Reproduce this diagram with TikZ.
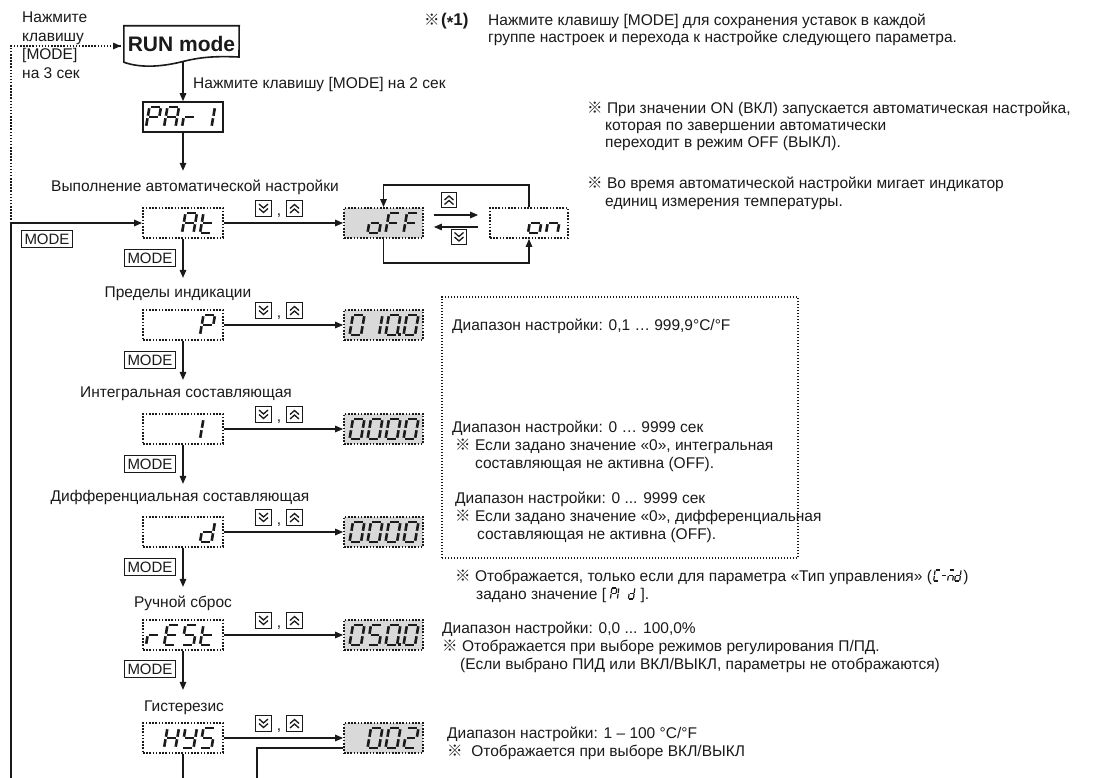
\documentclass[tikz,border=0pt]{standalone}
\usepackage{fontspec}
\setmainfont{Liberation Sans}
\newfontfamily\cjk{Noto Sans CJK JP}
\usetikzlibrary{arrows.meta}

\definecolor{ink}{HTML}{1A1A1A}
\definecolor{lcd}{HTML}{D9D9D9}

\newcommand\rf{{\cjk ※}}

% seven-segment helpers
\def\cw{11.5}\def\ch{20}\def\csl{3.5}
\def\segpa{0/1/1/1}
\def\segpb{1/1/1/0.5}
\def\segpc{1/0.5/1/0}
\def\segpd{0/0/1/0}
\def\segpe{0/0/0/0.5}
\def\segpf{0/0.5/0/1}
\def\segpg{0/0.5/1/0.5}
\def\drawseg#1/#2/#3/#4\relax{\draw[segl] ({\cx+#1*\cw+#2*\csl},{\cy-#2*\ch}) -- ({\cx+#3*\cw+#4*\csl},{\cy-#4*\ch});}
\newcommand\dg[3]{\def\cx{#1}\def\cy{#2}\foreach \s in #3 {\expandafter\expandafter\expandafter\drawseg\csname segp\s\endcsname\relax}}
\newcommand\cell[4][-37]{\begin{scope}[shift={(#2.center)}]\dg{#1+18*#3}{10}{#4}\end{scope}}
\newcommand\cdp[3][-34]{\begin{scope}[shift={(#2.center)}]\fill[ink] ({#1+18*#3+\cw+1},7.5) rectangle ({#1+18*#3+\cw+3.5},10.5);\end{scope}}

\def\Dzero{a,b,c,d,e,f}
\def\Done{b,c}
\def\Dtwo{a,b,g,e,d}
\def\Dfive{a,f,g,c,d}
\def\DA{a,b,c,e,f,g}
\def\DP{a,b,e,f,g}
\def\Dr{e,g}
\def\Dt{d,e,f,g}
\def\DE{a,d,e,f,g}
\def\DS{a,c,d,f,g}
\def\DH{b,c,e,f,g}
\def\DY{b,c,d,f,g}
\def\Do{c,d,e,g}
\def\DF{a,e,f,g}
\def\Dn{c,e,g}
\def\Dd{b,c,d,e,g}
\def\DI{e,f}
\def\DC{a,d,e,f}
\def\Dm{a,c,e,g}
\def\Ddash{g}

% chevron icons
\newcommand\chevd[1]{%
  \draw[chev] ([shift={(-4.5,-4.5)}]#1.center) -- ([shift={(0,-0.5)}]#1.center) -- ([shift={(4.5,-4.5)}]#1.center);
  \draw[chev] ([shift={(-4.5,0)}]#1.center) -- ([shift={(0,4)}]#1.center) -- ([shift={(4.5,0)}]#1.center);}
\newcommand\chevu[1]{%
  \draw[chev] ([shift={(-4.5,4.5)}]#1.center) -- ([shift={(0,0.5)}]#1.center) -- ([shift={(4.5,4.5)}]#1.center);
  \draw[chev] ([shift={(-4.5,0)}]#1.center) -- ([shift={(0,-4)}]#1.center) -- ([shift={(4.5,0)}]#1.center);}

\tikzset{
  x=1pt, y=-1pt,
  txt/.style={font=\fontsize{15.5}{18}\selectfont, text=ink, inner sep=0pt, anchor=base west},
  ctxt/.style={txt, anchor=base},
  pbox/.style={draw=ink, line width=1.8pt, dash pattern=on 1.6pt off 1.6pt, minimum width=80pt, minimum height=30pt, inner sep=0pt},
  vbox/.style={pbox, fill=lcd, minimum width=79pt},
  modeb/.style={draw=ink, line width=1.3pt, font=\fontsize{15}{16}\selectfont, text=ink, inner sep=1.2pt, minimum width=51pt, minimum height=17pt},
  icon/.style={draw=ink, line width=1.1pt, minimum size=15.5pt, inner sep=0pt},
  chev/.style={draw=ink, line width=1.3pt},
  ln/.style={draw=ink, line width=1.4pt},
  arr/.style={ln, -{Triangle[length=8pt,width=6.5pt]}},
  dotl/.style={draw=ink, line width=1.7pt, dash pattern=on 1.5pt off 1.6pt},
  segl/.style={draw=ink, line width=2.6pt, shorten <=1.3pt, shorten >=1.3pt},
}

\begin{document}
\begin{tikzpicture}
\useasboundingbox (0,0) rectangle (1102,778);
\fill[white] (0,0) rectangle (1102,778);

% ---------- top left ----------
\node[txt] (k1) at (22,23) {Нажмите};
\node[txt] (k2) at (22,41.5) {клавишу};
\node[txt] (k3) at (22,60) {[MODE]};
\node[txt] (k4) at (22,78.5) {на 3 сек};

\node[font=\bfseries\fontsize{21}{24}\selectfont, text=ink, inner sep=0pt, minimum width=115pt, minimum height=36pt] (run) at (181.5,44) {RUN mode};
\draw[ln, line width=1.6pt] (run.north west) -- (run.north east) -- (239,57)
  .. controls (215,56) and (200,57) .. (181,62)
  .. controls (160,67) and (140,68) .. (run.south west) -- cycle;

\coordinate (jn) at (11,223);
\coordinate (lt) at (11,46);
\coordinate (rl) at (121,46);
\coordinate (b1) at (11,778);
\draw[dotl] (jn) -- (lt) -- (rl);
\draw[-{Triangle[length=8pt,width=6.5pt]}, draw=ink, fill=ink, line width=1.4pt] ([xshift=-3pt]rl) -- (rl);
\draw[ln] (jn) -- (b1);
\node[modeb] (m0) at (47,239) {MODE};

\node[pbox, solid, line width=1.6pt] (par) at (183,117) {};
\draw[arr] (par.north |- run.south) -- (par.north);
\node[txt] (lab2) at (193,89) {Нажмите клавишу [MODE] на 2 сек};
\draw[arr] (par.south) -- ++(0,38);

% ---------- parameter column ----------
\node[ctxt] (lat) at (195,192) {Выполнение автоматической настройки};
\node[ctxt] (lp)  at (178,297) {Пределы индикации};
\node[ctxt] (li)  at (186,397) {Интегральная составляющая};
\node[ctxt] (ld)  at (180,501) {Дифференциальная составляющая};
\node[ctxt] (lr)  at (183,607) {Ручной сброс};
\node[ctxt] (lh)  at (184,711) {Гистерезис};

\node[pbox] (pat) at (183,223) {};
\node[pbox] (pp)  at (183,325) {};
\node[pbox] (pi)  at (183,429) {};
\node[pbox] (pd)  at (183,532) {};
\node[pbox] (prs) at (183,635) {};
\node[pbox] (phy) at (183,738) {};

\node[vbox] (off) at (383.5,223) {};
\node[vbox] (v1) at (383.5,325) {};
\node[vbox] (v2) at (383.5,429) {};
\node[vbox] (v3) at (383.5,532) {};
\node[vbox] (v4) at (383.5,635) {};
\node[vbox] (v5) at (383.5,738) {};
\node[pbox, minimum width=78pt] (on) at (529,223) {};

\draw[arr] (jn) -- (pat.west);
\draw[arr] (pat.east) -- (off.west);
\draw[arr] (pp.east) -- (v1.west);
\draw[arr] (pi.east) -- (v2.west);
\draw[arr] (pd.east) -- (v3.west);
\draw[arr] (prs.east) -- (v4.west);
\draw[arr] (phy.east) -- (v5.west);

\draw[arr] (pat.south) -- ++(0,39);
\draw[arr] (pp.south) -- ++(0,39);
\draw[arr] (pi.south) -- ++(0,39);
\draw[arr] (pd.south) -- ++(0,39);
\draw[arr] (prs.south) -- ++(0,39);
\coordinate (b2) at (183,778);
\draw[ln] (phy.south) -- (b2);
\coordinate (b3) at (257,778);
\draw[ln] ([yshift=-10pt]v5.west) -| (b3);

\node[modeb] (m1) at (150,258) {MODE};
\node[modeb] (m2) at (150,360) {MODE};
\node[modeb] (m3) at (150,464) {MODE};
\node[modeb] (m4) at (150,567) {MODE};
\node[modeb] (m5) at (150,669) {MODE};

\foreach \nm/\yy in {at/223, p/325, i/429, d/532, rs/635, hy/738} {
  \node[icon] (dn-\nm) at (263.5,\yy-14.5) {};
  \chevd{dn-\nm}
  \node[ctxt] (cm-\nm) at (279,\yy-8) {,};
  \node[icon] (up-\nm) at (294.5,\yy-14.5) {};
  \chevu{up-\nm}
}

% auto-tune loop
\draw[arr] (on.north) -- ++(0,-22) -| (off.north);
\draw[arr] (off.south) -- ++(0,24) -| (on.south);
\draw[arr] ([shift={(10,-8)}]off.east) -- ([shift={(-11,-8)}]on.west);
\draw[arr] ([shift={(-11,4)}]on.west) -- ([shift={(10,4)}]off.east);
\node[icon] (upo) at (449,200) {};
\chevu{upo}
\node[icon] (dno) at (459,237) {};
\chevd{dno}

% ---------- seven-segment contents ----------
\cell{par}{0}{\DP}\cell{par}{1}{\DA}\cell{par}{2}{\Dr}\cell{par}{3}{\Done}
\cell{pat}{2}{\DA}\cell{pat}{3}{\Dt}
\cell{pp}{3}{\DP}
\cell{pi}{3}{\DI}
\cell{pd}{3}{\Dd}
\cell{prs}{0}{\Dr}\cell{prs}{1}{\DE}\cell{prs}{2}{\DS}\cell{prs}{3}{\Dt}
\cell{phy}{1}{\DH}\cell{phy}{2}{\DY}\cell{phy}{3}{\DS}
\cell[-34]{off}{1}{\Do}\cell[-34]{off}{2}{\DF}\cell[-34]{off}{3}{\DF}
\cell{on}{2}{\Do}\cell{on}{3}{\Dn}
\cell[-34]{v1}{0}{\Dzero}\cell[-34]{v1}{1}{\Done}\cell[-34]{v1}{2}{\Dzero}\cdp{v1}{2}\cell[-34]{v1}{3}{\Dzero}
\cell[-34]{v2}{0}{\Dzero}\cell[-34]{v2}{1}{\Dzero}\cell[-34]{v2}{2}{\Dzero}\cell[-34]{v2}{3}{\Dzero}
\cell[-34]{v3}{0}{\Dzero}\cell[-34]{v3}{1}{\Dzero}\cell[-34]{v3}{2}{\Dzero}\cell[-34]{v3}{3}{\Dzero}
\cell[-34]{v4}{0}{\Dzero}\cell[-34]{v4}{1}{\Dfive}\cell[-34]{v4}{2}{\Dzero}\cdp{v4}{2}\cell[-34]{v4}{3}{\Dzero}
\cell[-34]{v5}{1}{\Dzero}\cell[-34]{v5}{2}{\Dzero}\cell[-34]{v5}{3}{\Dtwo}

% ---------- notes ----------
\node[txt] (n1s) at (424,26) {\rf};
\node[txt, font=\bfseries\fontsize{17}{20}\selectfont] (n1b) at (441,26) {(\raisebox{-2.5pt}{*}1)};
\node[txt] (n1a) at (488,26) {Нажмите клавишу [MODE] для сохранения уставок в каждой};
\node[txt] (n1c) at (488,43) {группе настроек и перехода к настройке следующего параметра.};

\node[txt] (n2a) at (587,114) {\rf\ При значении ON (ВКЛ) запускается автоматическая настройка,};
\node[txt] (n2b) at (605,131) {которая по завершении автоматически};
\node[txt] (n2c) at (605,148) {переходит в режим OFF (ВЫКЛ).};
\node[txt] (n3a) at (587,189) {\rf\ Во время автоматической настройки мигает индикатор};
\node[txt] (n3b) at (605,206) {единиц измерения температуры.};

\node[draw=ink, line width=1.3pt, dash pattern=on 1.3pt off 1.7pt, minimum width=356pt, minimum height=261pt, inner sep=0pt] (rbox) at (620,427.5) {};

\node[txt] (r1) at (452,330) {Диапазон настройки: 0,1 … 999,9°C/°F};
\node[txt] (r2) at (452,432) {Диапазон настройки: 0 … 9999 сек};
\node[txt] (r3) at (455,450) {\rf\ Если задано значение «0», интегральная};
\node[txt] (r4) at (475,468) {составляющая не активна (OFF).};
\node[txt] (r5) at (455,503) {Диапазон настройки: 0 ... 9999 сек};
\node[txt] (r6) at (455,521) {\rf\ Если задано значение «0», дифференциальная};
\node[txt] (r7) at (477,539) {составляющая не активна (OFF).};

\node[txt] (s1) at (455,581) {\rf\ Отображается, только если для параметра «Тип управления» (};
\begin{scope}[shift={(s1.base east)}, segl/.style={draw=ink, line width=1.2pt, shorten <=0.5pt, shorten >=0.5pt}]
  \def\cw{5}\def\ch{11}\def\csl{1.5}
  \dg{1.5}{0}{\DC}
  \dg{8.5}{0}{\Ddash}
  \dg{15.5}{0}{\Dm}
  \dg{22.5}{0}{\Dd}
\end{scope}
\node[txt] (s1e) at ([xshift=31pt]s1.base east) {)};
\node[txt] (s2) at (476,599) {задано значение [};
\begin{scope}[shift={(s2.base east)}, segl/.style={draw=ink, line width=1.2pt, shorten <=0.5pt, shorten >=0.5pt}]
  \def\cw{5}\def\ch{11}\def\csl{1.5}
  \dg{4}{0}{\DP}
  \dg{11}{0}{\DI}
  \dg{22}{0}{\Dd}
\end{scope}
\node[txt] (s2e) at ([xshift=34pt]s2.base east) {].};

\node[txt] (t1) at (442,633) {Диапазон настройки: 0,0 ... 100,0\%};
\node[txt] (t2) at (442,651) {\rf\ Отображается при выборе режимов регулирования П/ПД.};
\node[txt] (t3) at (460,669) {(Если выбрано ПИД или ВКЛ/ВЫКЛ, параметры не отображаются)};

\node[txt] (u1) at (447,738) {Диапазон настройки: 1 – 100 °C/°F};
\node[txt] (u2) at (447,756) {\rf\ \ Отображается при выборе ВКЛ/ВЫКЛ};
\end{tikzpicture}
\end{document}
